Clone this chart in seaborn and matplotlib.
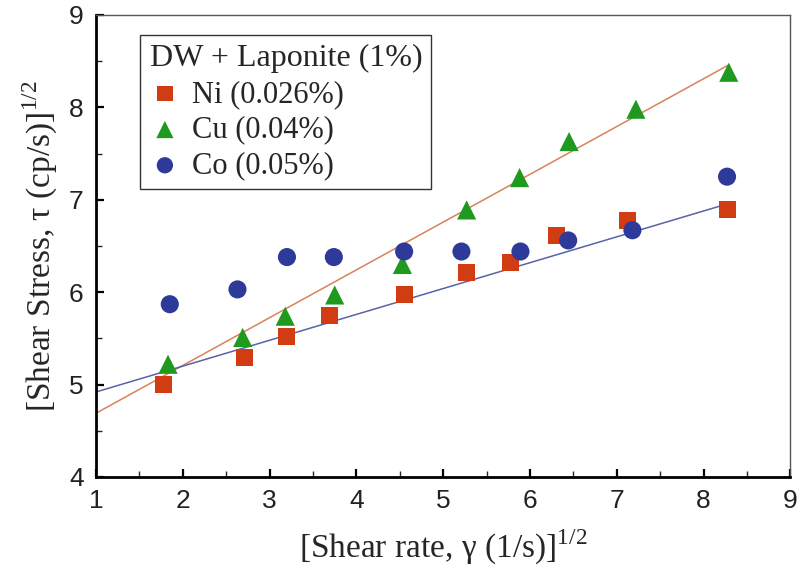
import matplotlib
matplotlib.use("Agg")
import matplotlib.pyplot as plt
import seaborn as sns
import numpy as np
import pandas as pd
from matplotlib.ticker import MultipleLocator

# ---- data ----
ni_x = [1.78, 2.71, 3.20, 3.69, 4.55, 5.27, 5.77, 6.31, 7.12, 8.28]
ni_y = [5.00, 5.29, 5.52, 5.75, 5.98, 6.21, 6.32, 6.61, 6.78, 6.90]
cu_x = [1.83, 2.69, 3.18, 3.75, 4.53, 5.27, 5.88, 6.45, 7.22, 8.29]
cu_y = [5.22, 5.51, 5.74, 5.97, 6.30, 6.89, 7.24, 7.63, 7.98, 8.38]
co_x = [1.85, 2.63, 3.20, 3.74, 4.55, 5.21, 5.89, 6.44, 7.18, 8.27]
co_y = [5.87, 6.03, 6.38, 6.38, 6.44, 6.44, 6.44, 6.56, 6.67, 7.25]
fit_x = [1.0, 8.29]
fit_ni = [4.92, 6.96]
fit_cu = [4.69, 8.46]

labels = ["Ni (0.026%)", "Cu (0.04%)", "Co (0.05%)"]
legend_title = "DW + Laponite (1%)"

fit_df = pd.concat([
    pd.DataFrame({"x": fit_x, "y": fit_cu, "fit": "cu"}),
    pd.DataFrame({"x": fit_x, "y": fit_ni, "fit": "ni"}),
])

sns.set_style("ticks")
plt.rcParams["font.family"] = ["Liberation Sans", "DejaVu Sans"]
plt.rcParams["mathtext.fontset"] = "custom"
plt.rcParams["mathtext.rm"] = "Liberation Serif"

colors = {labels[0]: "#d23c12", labels[1]: "#1f9a1f", labels[2]: "#2e3a99"}
markers = {labels[0]: "s", labels[1]: "^", labels[2]: "o"}
sizes_ = {labels[0]: 150, labels[1]: 190, labels[2]: 170}

fig = plt.figure(figsize=(8.0, 5.69), dpi=100)
ax = fig.add_axes([0.12, 0.1617, 0.868, 0.812])

sns.lineplot(data=fit_df, x="x", y="y", hue="fit",
             palette={"cu": "#d9825a", "ni": "#5a62a8"},
             linewidth=1.1, legend=False, ax=ax, zorder=1)

for lab, xs, ys in zip(labels, [ni_x, cu_x, co_x], [ni_y, cu_y, co_y]):
    sns.scatterplot(x=xs, y=ys, color=colors[lab], marker=markers[lab],
                    s=sizes_[lab], edgecolor="none", label=lab, ax=ax, zorder=3)

ax.set_xlim(1, 9)
ax.set_ylim(4, 9)
ax.xaxis.set_major_locator(MultipleLocator(1))
ax.yaxis.set_major_locator(MultipleLocator(1))
ax.xaxis.set_minor_locator(MultipleLocator(0.5))
ax.yaxis.set_minor_locator(MultipleLocator(0.5))
ax.tick_params(which="major", direction="in", length=6, width=1.6, labelsize=19,
               colors="black", pad=9)
ax.tick_params(which="minor", direction="in", length=4, width=1.0)
for t in ax.get_xticklabels() + ax.get_yticklabels():
    t.set_color("#222222")

ax.spines["left"].set_linewidth(2.0)
ax.spines["bottom"].set_linewidth(2.0)
ax.spines["left"].set_color("black")
ax.spines["bottom"].set_color("black")
ax.spines["top"].set_linewidth(1.0)
ax.spines["right"].set_linewidth(1.0)
ax.spines["top"].set_color("#555555")
ax.spines["right"].set_color("#555555")

serif = ["Liberation Serif", "DejaVu Serif"]
ax.set_xlabel(r"[Shear rate, γ (1/s)]$^{\mathrm{1/2}}$", fontsize=24,
              family=serif, labelpad=10)
ax.set_ylabel(r"[Shear Stress, τ (cp/s)]$^{\mathrm{1/2}}$", fontsize=24,
              family=serif, labelpad=6)

leg = ax.legend(title=legend_title, loc="upper left", bbox_to_anchor=(0.042, 0.99),
                frameon=True, fancybox=False, edgecolor="black",
                prop={"family": serif, "size": 22}, title_fontproperties={"family": serif, "size": 23},
                handletextpad=0.4, labelspacing=0.22, borderpad=0.3, markerscale=0.9,
                handlelength=1.0)
leg.get_frame().set_linewidth(1.0)
leg._legend_box.align = "left"

fig.savefig("out.png", dpi=100)
